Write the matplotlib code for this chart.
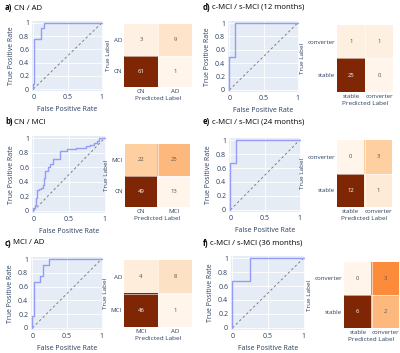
import numpy as np
import matplotlib.pyplot as plt

plt.rcParams['font.family'] = ['Open Sans', 'DejaVu Sans']

# ---- data ----
titles = [('a)', 'CN / AD'), ('b)', 'CN / MCI'), ('c)', 'MCI / AD'),
          ('d)', 'c-MCI / s-MCI (12 months)'), ('e)', 'c-MCI / s-MCI (24 months)'),
          ('f)', 'c-MCI / s-MCI (36 months)')]

fpr_a = [0, 0, 0.016, 0.016, 0.113, 0.113, 0.161, 0.161, 1]
tpr_a = [0, 0.083, 0.083, 0.75, 0.75, 0.917, 0.917, 1, 1]

fpr_b = [0, 0, 0.02, 0.02, 0.03, 0.03, 0.05, 0.05, 0.08, 0.08, 0.11, 0.11, 0.13, 0.13,
         0.15, 0.15, 0.16, 0.16, 0.21, 0.21, 0.24, 0.24, 0.27, 0.27, 0.37, 0.37, 0.38,
         0.38, 0.47, 0.47, 0.6, 0.6, 0.74, 0.74, 0.8, 0.8, 0.85, 0.85, 0.9, 0.9, 0.92, 0.92, 1]
tpr_b = [0, 0.04, 0.04, 0.08, 0.08, 0.17, 0.17, 0.28, 0.28, 0.30, 0.30, 0.32, 0.32, 0.36,
         0.36, 0.45, 0.45, 0.55, 0.55, 0.60, 0.60, 0.64, 0.64, 0.72, 0.72, 0.77, 0.77,
         0.83, 0.83, 0.85, 0.85, 0.87, 0.87, 0.89, 0.89, 0.91, 0.91, 0.94, 0.94, 0.96, 0.96, 1, 1]

fpr_c = [0, 0, 0.021, 0.021, 0.106, 0.106, 0.149, 0.149, 0.234, 0.234, 1]
tpr_c = [0, 0.167, 0.167, 0.667, 0.667, 0.75, 0.75, 0.917, 0.917, 1, 1]

fpr_d = [0, 0, 0.08, 0.08, 1]
tpr_d = [0, 0.5, 0.5, 1, 1]

fpr_e = [0, 0, 0.077, 0.077, 1]
tpr_e = [0, 0.667, 0.667, 1, 1]

fpr_f = [0, 0, 0.25, 0.25, 1]
tpr_f = [0, 0.667, 0.667, 1, 1]

# confusion matrices: row 0 = negative class (bottom), row 1 = positive class (top)
cm_a = [[61, 1], [3, 9]]
cm_b = [[49, 13], [22, 25]]
cm_c = [[46, 1], [4, 8]]
cm_d = [[25, 0], [1, 1]]
cm_e = [[12, 1], [0, 3]]
cm_f = [[6, 2], [0, 3]]

lab_a = ['CN', 'AD']
lab_b = ['CN', 'MCI']
lab_c = ['MCI', 'AD']
lab_mci = ['stable', 'converter']

W, H = 400, 353
fig = plt.figure(figsize=(W / 100, H / 100), dpi=100)


def box(l, t, r, b):
    return [l / W, 1 - b / H, (r - l) / W, (b - t) / H]


def roc(rect, fpr, tpr):
    ax = fig.add_axes(box(*rect))
    ax.set_facecolor('#E5ECF6')
    ax.plot([0, 1], [0, 1], ls=(0, (2.5, 2.5)), color='#7f7f7f', lw=0.7)
    ax.plot(fpr, tpr, color='#959cf7', lw=1.0)
    ax.set_xlim(-0.02, 1.02)
    ax.set_ylim(-0.03, 1.03)
    ax.set_xticks([0, 0.5, 1], ['0', '0.5', '1'])
    ax.set_yticks([0, 0.2, 0.4, 0.6, 0.8, 1], ['0', '0.2', '0.4', '0.6', '0.8', '1'])
    ax.grid(color='white', lw=0.6)
    ax.set_axisbelow(True)
    for s in ax.spines.values():
        s.set_visible(False)
    ax.tick_params(length=0, labelsize=5, colors='#2a3f5f', pad=2)
    ax.set_xlabel('False Positive Rate', fontsize=5, color='#2a3f5f', labelpad=4)
    ax.set_ylabel('True Positive Rate', fontsize=5, color='#2a3f5f', labelpad=3)
    return ax


def cm(rect, mat, labels):
    mat = np.array(mat)
    ax = fig.add_axes(box(*rect))
    ax.imshow(mat, cmap='Oranges', origin='lower', aspect='auto')
    for i in range(2):
        for j in range(2):
            c = 'white' if mat[i, j] == mat.max() else '#555555'
            ax.text(j, i, str(mat[i, j]), ha='center', va='center', fontsize=4.2, color=c)
    ax.axhline(0.5, color='white', lw=0.4)
    ax.axvline(0.5, color='white', lw=0.4)
    ax.set_xticks([0, 1], labels)
    ax.set_yticks([0, 1], labels)
    for s in ax.spines.values():
        s.set_visible(False)
    ax.tick_params(length=0, labelsize=4.4, colors='#2a3f5f', pad=1.5)
    ax.set_xlabel('Predicted Label', fontsize=4.6, color='#2a3f5f', labelpad=1.5)
    ax.set_ylabel('True Label', fontsize=4.6, color='#2a3f5f', labelpad=2)
    return ax


roc((32, 21, 103, 91), fpr_a, tpr_a)
roc((32, 136, 106, 213), fpr_b, tpr_b)
roc((31, 257, 103, 330), fpr_c, tpr_c)
roc((228, 21, 299, 92), fpr_d, tpr_d)
roc((229, 138, 301, 212), fpr_e, tpr_e)
roc((231, 256, 305, 330), fpr_f, tpr_f)

cm((124, 24, 192, 87), cm_a, lab_a)
cm((125, 144, 190, 207), cm_b, lab_b)
cm((124, 260, 192, 327), cm_c, lab_c)
cm((337, 25, 393, 92), cm_d, lab_mci)
cm((337, 140, 392, 207), cm_e, lab_mci)
cm((344, 262, 399, 328), cm_f, lab_mci)

# panel titles: bold letter + normal text
renderer = fig.canvas.get_renderer()
title_pos = [(5, 8), (5, 122), (5, 243), (203, 7), (203, 122), (203, 243)]
for (letter, rest), (x, y) in zip(titles, title_pos):
    t = fig.text(x / W, 1 - y / H, letter, fontsize=5.6, fontweight='bold', va='center')
    ext = t.get_window_extent(renderer)
    fig.text(ext.x1 / W + 1.5 / W, 1 - y / H, rest, fontsize=5.6, va='center')

fig.savefig('out.png', dpi=100)
